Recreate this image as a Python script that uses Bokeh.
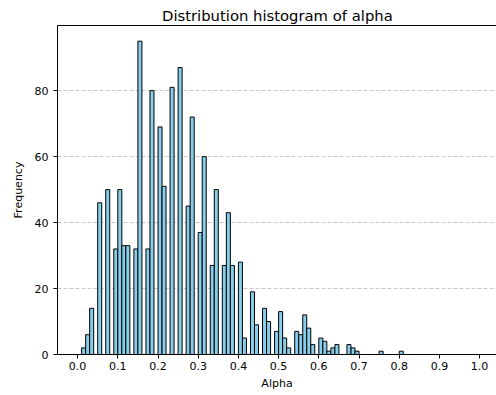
import numpy as np
from bokeh.plotting import figure
from bokeh.models import Range1d, FixedTicker, LinearAxis, ColumnDataSource
from bokeh.embed import file_html
from bokeh.resources import INLINE

# ---- data ----
bin_start = 0.01
bin_width = 0.01
counts = [2, 6, 14, 0, 46, 0, 50, 0, 32, 50,
          33, 33, 0, 32, 95, 0, 32, 80, 0, 69,
          51, 0, 81, 0, 87, 0, 45, 72, 0, 37,
          60, 0, 27, 50, 0, 27, 43, 27, 0, 28,
          5, 0, 19, 9, 0, 14, 10, 0, 7, 13,
          5, 2, 0, 7, 6, 12, 8, 3, 0, 5,
          4, 1, 2, 3, 0, 0, 3, 2, 1, 0,
          0, 0, 0, 0, 1, 0, 0, 0, 0, 1]
x_ticks = [0.0, 0.1, 0.2, 0.3, 0.4, 0.5, 0.6, 0.7, 0.8, 0.9, 1.0]
x_tick_labels = ["0.0", "0.1", "0.2", "0.3", "0.4", "0.5", "0.6", "0.7", "0.8", "0.9", "1.0"]
y_ticks = [0, 20, 40, 60, 80]

left = bin_start + bin_width * np.arange(len(counts))
right = left + bin_width
src = ColumnDataSource(dict(left=left, right=right, top=counts, bottom=[0] * len(counts)))

FONT = "DejaVu Sans"

p = figure(width=496, height=395, output_backend="svg", toolbar_location=None,
           x_range=Range1d(-0.05, 1.042), y_range=Range1d(0, 99.75),
           min_border_left=57, min_border_right=0, min_border_top=25, min_border_bottom=41)
p.outline_line_color = None
p.background_fill_color = "white"
p.border_fill_color = "white"

p.quad(left="left", right="right", top="top", bottom="bottom", source=src,
       fill_color="skyblue", line_color="black", line_width=1)

# grid
p.xgrid.grid_line_color = None
p.ygrid.ticker = FixedTicker(ticks=y_ticks)
p.ygrid.grid_line_color = "#c8c8c8"
p.ygrid.grid_line_dash = "4 2"
p.ygrid.grid_line_width = 1

# axes
xa = p.xaxis[0]
xa.ticker = FixedTicker(ticks=x_ticks)
xa.major_label_overrides = {t: l for t, l in zip(x_ticks, x_tick_labels)}
xa.axis_label = "Alpha"
ya = p.yaxis[0]
ya.ticker = FixedTicker(ticks=y_ticks)
ya.axis_label = "Frequency"
for ax in (xa, ya):
    ax.axis_line_color = "black"
    ax.axis_line_width = 1
    ax.major_tick_line_color = "black"
    ax.major_tick_out = 4
    ax.major_tick_in = 0
    ax.minor_tick_line_color = None
    ax.major_label_text_font = FONT
    ax.major_label_text_font_size = "11px"
    ax.major_label_text_color = "black"
    ax.major_label_standoff = 3
    ax.axis_label_text_font = FONT
    ax.axis_label_text_font_size = "11px"
    ax.axis_label_text_font_style = "normal"
    ax.axis_label_text_color = "black"
    ax.axis_label_standoff = 4
ya.major_label_standoff = 5
ya.axis_label_standoff = 7

# top spine
top = LinearAxis(ticker=FixedTicker(ticks=[]), axis_line_color="black",
                 major_tick_out=0, major_tick_in=0, minor_tick_out=0, minor_tick_in=0,
                 major_label_text_font_size="0px", major_label_standoff=0)
p.add_layout(top, "above")

# title
p.title.text = "Distribution histogram of alpha"
p.title.text_font = FONT
p.title.text_font_size = "14.8px"
p.title.text_font_style = "normal"
p.title.text_color = "black"
p.title.align = "left"
p.title.offset = 104.5
p.title.standoff = 3

open("out.html", "w").write(file_html(p, INLINE))
